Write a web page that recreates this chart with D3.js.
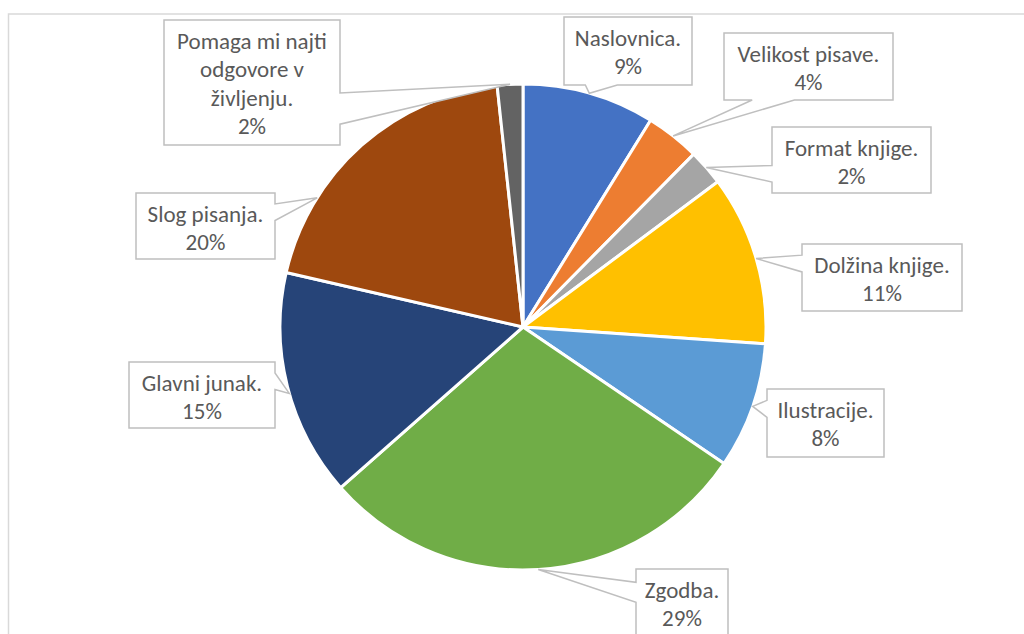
<!DOCTYPE html>
<html>
<head>
<meta charset="utf-8">
<script src="https://cdn.jsdelivr.net/npm/d3@7"></script>
<style>
  html, body { margin: 0; padding: 0; background: #fff; }
  svg text { font-family: Calibri, Carlito, Lato, sans-serif; }
</style>
</head>
<body>
<div id="chart"></div>
<script>
// slice names (label lines) and shares, clockwise from 12 o'clock
var names = [
    ['Naslovnica.'],
    ['Velikost pisave.'],
    ['Format knjige.'],
    ['Dolžina knjige.'],
    ['Ilustracije.'],
    ['Zgodba.'],
    ['Glavni junak.'],
    ['Slog pisanja.'],
    ['Pomaga mi najti', 'odgovore v', 'življenju.']
];
var values = [8.8, 3.6, 2.4, 11.3, 8.4, 29.0, 15.1, 19.7, 1.7];
var percentLabels = ['9%', '4%', '2%', '11%', '8%', '29%', '15%', '20%', '2%'];
var colors = ['#4472C4', '#ED7D31', '#A5A5A5', '#FFC000', '#5B9BD5',
    '#70AD47', '#264478', '#9E480E', '#636363'];

// callout boxes (layout only) and where along each slice the pointer lands
var boxes = [
    { x: 564, y: 17, w: 128, h: 68 },
    { x: 724, y: 33, w: 169, h: 67 },
    { x: 772, y: 127, w: 159, h: 66 },
    { x: 802, y: 244, w: 160, h: 67 },
    { x: 767, y: 389, w: 117, h: 68 },
    { x: 636, y: 569, w: 92, h: 80 },
    { x: 129, y: 362, w: 146, h: 66 },
    { x: 136, y: 193, w: 139, h: 66 },
    { x: 164, y: 20, w: 176, h: 125 }
];
var tipAt = [0.5, 0.5, 0.5, 0.5, 0.5, 0.5, 0.47, 0.27, 0.5];

var width = 1024, height = 634;
var cx = 523, cy = 327, radius = 243;

var svg = d3.select('#chart').append('svg')
    .attr('width', width)
    .attr('height', height);

// chart area frame
svg.append('rect')
    .attr('x', 8.5).attr('y', 14)
    .attr('width', 1030).attr('height', 640)
    .attr('fill', 'none')
    .attr('stroke', '#d9d9d9')
    .attr('stroke-width', 1.5);

var pie = d3.pie().sort(null).value(function(d) { return d; });
var arcs = pie(values);

var arc = d3.arc().innerRadius(0).outerRadius(radius);

var g = svg.append('g').attr('transform', 'translate(' + cx + ',' + cy + ')');

g.selectAll('path')
    .data(arcs).enter()
    .append('path')
    .attr('d', arc)
    .attr('fill', function(d, i) { return colors[i]; })
    .attr('stroke', '#fff')
    .attr('stroke-width', 3)
    .attr('stroke-linejoin', 'round');

// Excel style wedge callout: rectangle with a notch pointing at the slice
function calloutPath(b, tx, ty) {
    var hc = b.x + b.w / 2, vc = b.y + b.h / 2;
    var dx = tx - hc, dy = ty - vc;
    var x1 = b.x + b.w * (dx > 0 ? 7 : 2) / 12,
        x2 = b.x + b.w * (dx > 0 ? 10 : 5) / 12,
        y1 = b.y + b.h * (dy > 0 ? 7 : 2) / 12,
        y2 = b.y + b.h * (dy > 0 ? 10 : 5) / 12;
    var L = b.x, R = b.x + b.w, T = b.y, B = b.y + b.h;
    var vertical = Math.abs(dy) / b.h > Math.abs(dx) / b.w;
    var p = d3.path();
    p.moveTo(L, T);
    if (vertical && dy < 0) { p.lineTo(x1, T); p.lineTo(tx, ty); p.lineTo(x2, T); }
    p.lineTo(R, T);
    if (!vertical && dx > 0) { p.lineTo(R, y1); p.lineTo(tx, ty); p.lineTo(R, y2); }
    p.lineTo(R, B);
    if (vertical && dy > 0) { p.lineTo(x2, B); p.lineTo(tx, ty); p.lineTo(x1, B); }
    p.lineTo(L, B);
    if (!vertical && dx < 0) { p.lineTo(L, y2); p.lineTo(tx, ty); p.lineTo(L, y1); }
    p.closePath();
    return p.toString();
}

var labels = svg.append('g').attr('class', 'labels');

arcs.forEach(function(d, i) {
    var b = boxes[i];
    var a = d.startAngle + (d.endAngle - d.startAngle) * tipAt[i];
    var tx = cx + radius * Math.sin(a),
        ty = cy - radius * Math.cos(a);

    labels.append('path')
        .attr('d', calloutPath(b, tx, ty))
        .attr('fill', '#fff')
        .attr('stroke', '#bfbfbf')
        .attr('stroke-width', 1.5);

    var lines = names[i].concat([percentLabels[i]]);
    var t = labels.append('text')
        .attr('text-anchor', 'middle')
        .attr('fill', '#595959')
        .attr('font-size', 23);
    lines.forEach(function(s, k) {
        t.append('tspan')
            .attr('x', b.x + b.w / 2)
            .attr('y', b.y + 29 + k * 28.3)
            .text(s);
    });
});
</script>
</body>
</html>
